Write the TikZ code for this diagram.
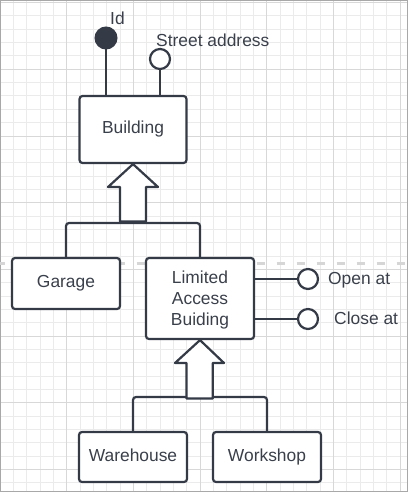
\documentclass[tikz,border=0pt]{standalone}
\usepackage{fontspec}
\setmainfont{Liberation Sans}
\definecolor{ink}{HTML}{343A46}
\definecolor{txt}{HTML}{3A404B}
\definecolor{gridminor}{HTML}{EBEBEB}
\definecolor{gridmajor}{HTML}{D8D8D8}
\definecolor{framegray}{HTML}{A8A8A8}
\definecolor{sepgray}{HTML}{D6D6D6}
\tikzset{
  box/.style={draw=ink, line width=2.2pt, rounded corners=3pt, fill=white,
    inner sep=0pt, text=txt, font=\fontsize{17.4}{21}\selectfont,
    text height=12.5pt, text depth=3.7pt, align=center},
  conn/.style={draw=ink, line width=2.2pt, rounded corners=3pt},
  attr/.style={circle, draw=ink, line width=2.2pt, inner sep=0pt, minimum size=20pt, fill=white},
  keyattr/.style={circle, draw=ink, fill=ink, line width=1pt, inner sep=0pt, minimum size=22pt},
  lbl/.style={text=txt, font=\fontsize{17.4}{21}\selectfont, inner sep=0pt},
  inherit/.style={draw=ink, line width=2.2pt, fill=white, line join=round},
}
\begin{document}
\begin{tikzpicture}[x=1pt,y=-1pt]
\useasboundingbox (0,0) rectangle (408,492);
% grid
\foreach \i in {1,...,30} {
  \draw[gridminor, line width=1pt] (\i*13.3333,0) -- (\i*13.3333,492);
}
\foreach \i in {0,...,36} {
  \draw[gridminor, line width=1pt] (0,2.667+\i*13.3333) -- (408,2.667+\i*13.3333);
}
\foreach \i in {1,...,6} {
  \draw[gridmajor, line width=1pt] (\i*66.6667,0) -- (\i*66.6667,492);
}
\foreach \i in {0,...,7} {
  \draw[gridmajor, line width=1pt] (0,2.667+\i*66.6667) -- (408,2.667+\i*66.6667);
}
\draw[framegray, line width=1.2pt] (0.6,0.6) rectangle (407.4,491.4);
% dashed separator
\draw[sepgray, line width=3pt, dash pattern=on 8pt off 12pt, dash phase=3.3pt] (0,263) -- (408,263);

% boxes
\node[box, minimum width=107pt, minimum height=67pt] (building) at (133,129.5) {Building};
\node[box, minimum width=108pt, minimum height=51pt] (garage) at (66,283.5) {Garage};
\node[box, minimum width=108pt, minimum height=81pt, text height=55pt, text depth=2pt] (lab) at (200,298.5) {Limited\\Access\\Buiding};
\node[box, minimum width=108pt, minimum height=50pt] (warehouse) at (133,457) {Warehouse};
\node[box, minimum width=108pt, minimum height=50pt] (workshop) at (267,457) {Workshop};

% attributes
\node[keyattr] (id) at (106,38) {};
\node[attr] (street) at (160,59) {};
\node[attr] (open) at (308,279) {};
\node[attr] (close) at (308,319) {};

\node[lbl, anchor=base west] (idl) at (110,25) {Id};
\node[lbl, anchor=base west] (streetl) at (156,46.5) {Street address};
\node[lbl, anchor=base west] (openl) at (328,284) {Open at};
\node[lbl, anchor=base west] (closel) at (334,324) {Close at};

\draw[conn] (id.center) -- (id.center |- building.north);
\draw[conn] (street.south) -- (street.south |- building.north);
\draw[conn] (lab.east |- open.west) -- (open.west);
\draw[conn] (lab.east |- close.west) -- (close.west);

% inheritance connectors
\coordinate (j1) at (133,223);
\draw[conn] (garage.north) |- (j1) -| (lab.north);
\coordinate (j2) at (200,397);
\draw[conn] (warehouse.north) |- (j2) -| (workshop.north);

% hollow arrows
\draw[inherit] (building.south) -- (158,187) -- (146,187) -- (146,221.5) -- (120,221.5) -- (120,187) -- (108,187) -- cycle;
\draw[inherit] (lab.south) -- (224,363) -- (212.7,363) -- (212.7,398.5) -- (186.5,398.5) -- (186.5,363) -- (175,363) -- cycle;
\end{tikzpicture}
\end{document}
